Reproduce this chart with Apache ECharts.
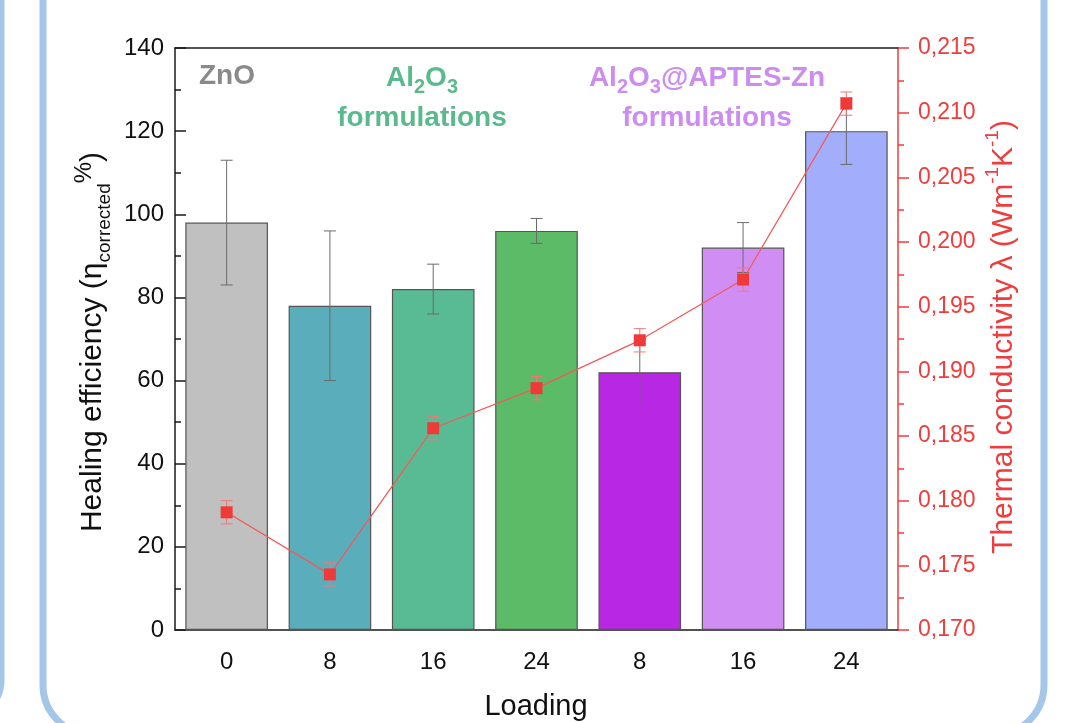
<!DOCTYPE html>
<html>
<head>
<meta charset="utf-8">
<title>Healing efficiency and thermal conductivity</title>
<script src="https://cdn.jsdelivr.net/npm/echarts@6/dist/echarts.min.js"></script>
<style>
  html, body { margin: 0; padding: 0; background: #fff; }
  #chart { width: 1068px; height: 723px; }
</style>
</head>
<body>
<div id="chart"></div>
<script>
'use strict';
// loading (wt%) for each sample, groups: ZnO | Al2O3 | Al2O3@APTES-Zn
var loadings = ['0', '8', '16', '24', '8', '16', '24'];
var healing = [98, 78, 82, 96, 62, 92, 120];
var healingErr = [15, 18, 6, 3, 8, 6, 8];
var conductivity = [0.1791, 0.1743, 0.1856, 0.1887, 0.1924, 0.1971, 0.2107];
var conductivityErr = [0.0009, 0.0009, 0.0009, 0.0009, 0.0009, 0.0009, 0.0009];
var barColors = ['#c0c0c0', '#5aaebb', '#58bb94', '#5bbb66', '#b827e3', '#d08ef5', '#a2aefb'];
var leftTicks = [0, 140, 20];
var rightTicks = [0.170, 0.215, 0.005];

var FONT = '"Liberation Sans", Arial, sans-serif';
var myChart = echarts.init(document.getElementById('chart'));

function errorItem(color, capW) {
	return function (params, api) {
		var x = api.value(0);
		var y = api.value(1);
		var e = api.value(2);
		var top = api.coord([x, y + e]);
		var bot = api.coord([x, y - e]);
		var style = { stroke: color, lineWidth: 1 };
		return {
			type: 'group',
			children: [
				{ type: 'line', shape: { x1: top[0], y1: top[1], x2: bot[0], y2: bot[1] }, style: style },
				{ type: 'line', shape: { x1: top[0] - capW, y1: top[1], x2: top[0] + capW, y2: top[1] }, style: style },
				{ type: 'line', shape: { x1: bot[0] - capW, y1: bot[1], x2: bot[0] + capW, y2: bot[1] }, style: style }
			]
		};
	};
}

var option = {
	animation: false,
	textStyle: { fontFamily: FONT },
	grid: {
		left: 175,
		right: 170,
		top: 48,
		bottom: 93,
		containLabel: false,
		outerBoundsMode: 'none'
	},
	xAxis: [{
		type: 'category',
		data: loadings,
		position: 'bottom',
		axisLine: { lineStyle: { color: '#1a1a1a', width: 1.5 } },
		axisTick: { alignWithLabel: true, length: 10, lineStyle: { color: '#1a1a1a', width: 1.5 } },
		axisLabel: { color: '#111', fontSize: 24, margin: 20, fontFamily: FONT, interval: 0 }
	}, {
		type: 'category',
		data: loadings,
		position: 'top',
		axisLine: { lineStyle: { color: '#1a1a1a', width: 1.5 } },
		axisTick: { show: false },
		axisLabel: { show: false }
	}],
	yAxis: [{
		type: 'value',
		min: leftTicks[0],
		max: leftTicks[1],
		interval: leftTicks[2],
		position: 'left',
		axisLine: { show: true, lineStyle: { color: '#1a1a1a', width: 1.5 } },
		axisTick: { show: true, inside: true, length: 11, lineStyle: { color: '#1a1a1a', width: 1.5 } },
		minorTick: { show: true, splitNumber: 2, length: 6, lineStyle: { color: '#1a1a1a', width: 1.5 } },
		splitLine: { show: false },
		axisLabel: { color: '#111', fontSize: 24, margin: 11, fontFamily: FONT }
	}, {
		type: 'value',
		min: rightTicks[0],
		max: rightTicks[1],
		interval: rightTicks[2],
		position: 'right',
		axisLine: { show: true, lineStyle: { color: '#f03c3c', width: 1.5 } },
		axisTick: { show: true, inside: false, length: 11, lineStyle: { color: '#f03c3c', width: 1.5 } },
		minorTick: { show: true, splitNumber: 2, length: 6, lineStyle: { color: '#f03c3c', width: 1.5 } },
		splitLine: { show: false },
		axisLabel: {
			color: '#f03c3c', fontSize: 23, margin: 20, fontFamily: FONT,
			formatter: function (v) { return v.toFixed(3).replace('.', ','); }
		}
	}],
	series: [{
		name: 'Healing efficiency',
		type: 'bar',
		barWidth: '80%',
		z: 2,
		data: healing.map(function (v, i) {
			return { value: v, itemStyle: { color: barColors[i] } };
		}),
		itemStyle: { borderColor: '#555', borderWidth: 1.2 }
	}, {
		name: 'Healing error',
		type: 'custom',
		z: 3,
		renderItem: errorItem('#6a6a6a', 6),
		data: healing.map(function (v, i) { return [i, v, healingErr[i]]; })
	}, {
		name: 'Conductivity error',
		type: 'custom',
		yAxisIndex: 1,
		z: 4,
		renderItem: errorItem('#f07878', 6),
		data: conductivity.map(function (v, i) { return [i, v, conductivityErr[i]]; })
	}, {
		name: 'Thermal conductivity',
		type: 'line',
		yAxisIndex: 1,
		z: 5,
		symbol: 'rect',
		symbolSize: 12,
		itemStyle: { color: '#f03a3a' },
		lineStyle: { color: '#f25a5a', width: 1.3 },
		data: conductivity
	}],
	graphic: [
		// page frames
		{ type: 'rect', silent: true, z: -10, shape: { x: 43, y: -60, width: 1001, height: 795, r: 50 },
			style: { fill: 'none', stroke: '#a3c6e9', lineWidth: 7 } },
		{ type: 'rect', silent: true, z: -10, shape: { x: -100, y: -60, width: 102, height: 780, r: 40 },
			style: { fill: 'none', stroke: '#a3c6e9', lineWidth: 5 } },
		// axis titles
		{ type: 'text', x: 93, y: 342, rotation: Math.PI / 2,
			style: {
				text: 'Healing efficiency (η{sub|corrected}{sup|%})',
				font: '30px ' + FONT, fill: '#111', align: 'center', verticalAlign: 'middle',
				lineHeight: 42,
				rich: {
					sub: { fontSize: 19, lineHeight: 19, verticalAlign: 'bottom', fill: '#111', fontFamily: FONT },
					sup: { fontSize: 24, lineHeight: 24, verticalAlign: 'top', fill: '#111', fontFamily: FONT }
				}
			} },
		{ type: 'text', x: 1004, y: 337, rotation: Math.PI / 2,
			style: {
				text: 'Thermal conductivity λ (Wm{sup|-1}K{sup|-1})',
				font: '30px ' + FONT, fill: '#f03c3c', align: 'center', verticalAlign: 'middle',
				lineHeight: 42,
				rich: {
					sup: { fontSize: 19, lineHeight: 19, verticalAlign: 'top', fill: '#f03c3c', fontFamily: FONT }
				}
			} },
		{ type: 'text', x: 536, y: 707,
			style: { text: 'Loading', font: '29px ' + FONT, fill: '#111', align: 'center', verticalAlign: 'middle' } },
		// group labels
		{ type: 'text', x: 199, y: 76,
			style: { text: 'ZnO', font: 'bold 28px ' + FONT, fill: '#8a8a8a', align: 'left', verticalAlign: 'middle' } },
		{ type: 'text', x: 422, y: 78,
			style: {
				text: 'Al{s|2}O{s|3}', font: 'bold 28px ' + FONT, fill: '#5ab98d', align: 'center', verticalAlign: 'middle',
				lineHeight: 38,
				rich: { s: { fontSize: 20, lineHeight: 20, verticalAlign: 'bottom', fontWeight: 'bold', fill: '#5ab98d', fontFamily: FONT } }
			} },
		{ type: 'text', x: 422, y: 118,
			style: { text: 'formulations', font: 'bold 28px ' + FONT, fill: '#5ab98d', align: 'center', verticalAlign: 'middle' } },
		{ type: 'text', x: 707, y: 78,
			style: {
				text: 'Al{s|2}O{s|3}@APTES-Zn', font: 'bold 28px ' + FONT, fill: '#cc8cf0', align: 'center', verticalAlign: 'middle',
				lineHeight: 38,
				rich: { s: { fontSize: 20, lineHeight: 20, verticalAlign: 'bottom', fontWeight: 'bold', fill: '#cc8cf0', fontFamily: FONT } }
			} },
		{ type: 'text', x: 707, y: 118,
			style: { text: 'formulations', font: 'bold 28px ' + FONT, fill: '#cc8cf0', align: 'center', verticalAlign: 'middle' } }
	]
};
myChart.setOption(option);
</script>
</body>
</html>
